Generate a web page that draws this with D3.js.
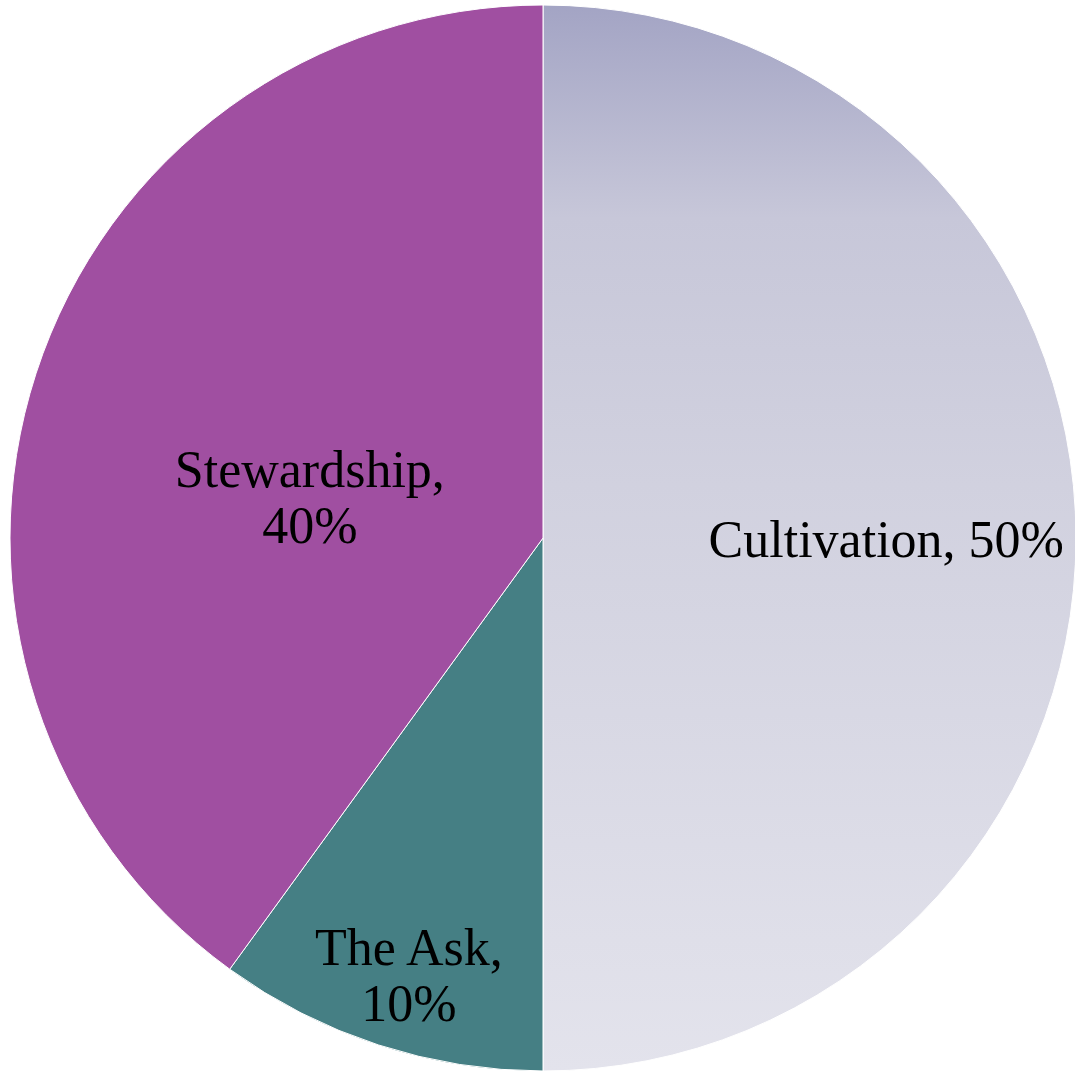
<!DOCTYPE html>
<html>
<head>
<meta charset="utf-8">
<script src="https://cdn.jsdelivr.net/npm/d3@7"></script>
<style>
  body { margin: 0; background: #fff; }
  svg { display: block; }
</style>
</head>
<body>
<svg id="chart"></svg>
<script>
const categories = ["Cultivation", "The Ask", "Stewardship"];
const shares = [50, 10, 40];
const labelLines = [["Cultivation, 50%"], ["The Ask,", "10%"], ["Stewardship,", "40%"]];

const width = 1075, height = 1074;
const cx = 543, cy = 538, radius = 533;

const svg = d3.select("#chart").attr("width", width).attr("height", height);

const defs = svg.append("defs");
const grad = defs.append("linearGradient")
    .attr("id", "cultGrad")
    .attr("gradientUnits", "userSpaceOnUse")
    .attr("x1", 0).attr("y1", -radius)
    .attr("x2", 0).attr("y2", radius);
[[0, "#a3a4c4"], [0.2, "#c7c7d9"], [0.45, "#d1d1df"], [1, "#e3e3ec"]]
    .forEach(s => grad.append("stop").attr("offset", s[0]).attr("stop-color", s[1]));

const fills = {"Cultivation": "url(#cultGrad)", "The Ask": "#457f84", "Stewardship": "#a04fa1"};

const pie = d3.pie().sort(null).value(d => d.value);
const data = pie(categories.map((c, i) => ({name: c, value: shares[i], lines: labelLines[i]})));

const arc = d3.arc().innerRadius(0).outerRadius(radius);

const g = svg.append("g").attr("transform", `translate(${cx},${cy})`);

g.selectAll("path")
    .data(data)
    .enter()
    .append("path")
    .attr("d", arc)
    .attr("fill", d => fills[d.data.name])
    .attr("stroke", "#fff")
    .attr("stroke-width", 1);

// label placement: radius factor along the slice's mid angle, then a vertical nudge
const labelPos = {
    "Cultivation": {f: 0.644, dy: 19},
    "The Ask": {f: 0.814, dy: 42},
    "Stewardship": {f: 0.46, dy: 53}
};

const lineH = 56;
const labels = g.selectAll("text.lbl")
    .data(data)
    .enter()
    .append("text")
    .attr("class", "lbl")
    .attr("text-anchor", "middle")
    .attr("font-family", "'Liberation Serif', serif")
    .attr("font-size", 52)
    .attr("fill", "#000")
    .attr("transform", d => {
        const r = radius * labelPos[d.data.name].f;
        const p = d3.arc().innerRadius(r).outerRadius(r).centroid(d);
        return `translate(${p[0]},${p[1]})`;
    });

labels.selectAll("tspan")
    .data(d => d.data.lines.map((t, i, a) => ({t, i, n: a.length, dy: labelPos[d.data.name].dy})))
    .enter()
    .append("tspan")
    .attr("x", 0)
    .attr("y", d => (d.i - (d.n - 1) / 2) * lineH + d.dy)
    .text(d => d.t);
</script>
</body>
</html>
